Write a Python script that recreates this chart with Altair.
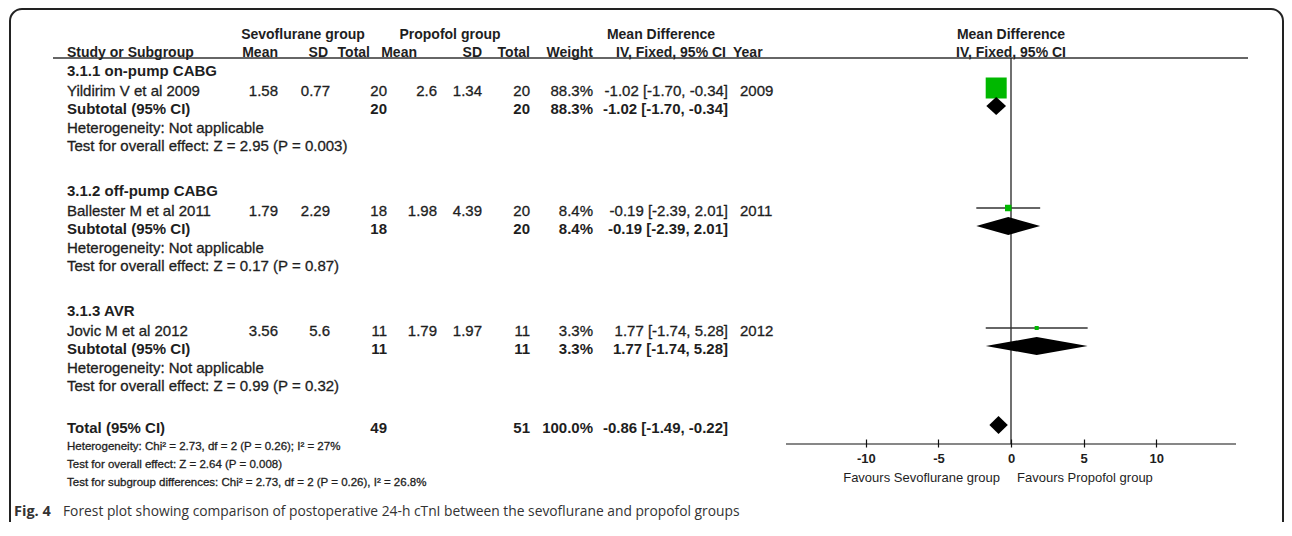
import altair as alt
import pandas as pd

# ---------------- data ----------------
subgroups = ["3.1.1 on-pump CABG", "3.1.2 off-pump CABG", "3.1.3 AVR"]
studies = ["Yildirim V et al 2009", "Ballester M et al 2011", "Jovic M et al 2012"]
years = [2009, 2011, 2012]
sevo_mean = [1.58, 1.79, 3.56]
sevo_sd = [0.77, 2.29, 5.6]
sevo_n = [20, 18, 11]
prop_mean = [2.6, 1.98, 1.79]
prop_sd = [1.34, 4.39, 1.97]
prop_n = [20, 20, 11]
weights = [88.3, 8.4, 3.3]
md = [-1.02, -0.19, 1.77]
ci_lo = [-1.70, -2.39, -1.74]
ci_hi = [-0.34, 2.01, 5.28]
subgroup_tests = ["Z = 2.95 (P = 0.003)", "Z = 0.17 (P = 0.87)", "Z = 0.99 (P = 0.32)"]
total_n = [49, 51]
total_weight = 100.0
total_md = [-0.86, -1.49, -0.22]
total_het = "Heterogeneity: Chi\u00b2 = 2.73, df = 2 (P = 0.26); I\u00b2 = 27%"
total_test = "Test for overall effect: Z = 2.64 (P = 0.008)"
subgroup_diff = "Test for subgroup differences: Chi\u00b2 = 2.73, df = 2 (P = 0.26), I\u00b2 = 26.8%"
axis_ticks = [-10, -5, 0, 5, 10]
axis_extent = [-15.5, 15.5]
favours = ["Favours Sevoflurane group", "Favours Propofol group"]
caption_bold = "Fig. 4"
caption_text = ("Forest plot showing comparison of postoperative 24-h cTnI "
                "between the sevoflurane and propofol groups")

# ---------------- layout (page pixels) ----------------
W, H = 1276, 514
M = 8  # page margin
FONT = "Liberation Sans"
NARROW = "Liberation Sans Narrow, Arial Narrow, Liberation Sans"
CAPFONT = "Open Sans"
TXT = "#1e1e1e"
FS = 15
FS_HEAD = 14
FS_SMALL = 11.5

COL = {  # x, align
    "label": (67, "left"),
    "sevo_mean": (278, "right"),
    "sevo_sd": (330, "right"),
    "sevo_n": (387, "right"),
    "prop_mean": (437, "right"),
    "prop_sd": (482, "right"),
    "prop_n": (530, "right"),
    "weight": (593, "right"),
    "ci": (728, "right"),
    "year": (740, "left"),
}
HEAD1_Y, HEAD2_Y = 35, 53
GROUP_Y = [71, 191, 311]
STEP = [0, 20, 38, 57, 75]   # title, study, subtotal, heterogeneity, test
TOTAL_Y = [428, 447, 465, 483]
CAPTION_Y = 512
MARK_DY = -3
PLOT_X0, PLOT_X1 = 786, 1236   # pixel extent of axis_extent
AXIS_TICK_Y = 439
AXIS_LINE_Y = 444
HEADER_RULE_Y = 58
DIAMOND_H = 9
SQUARE_MAX = 21

items = []


def add(text, x, y, align="left", bold=False, size=FS, font=FONT, color=TXT):
    items.append(dict(text=str(text), px=x - M, py=y - M, align=align,
                      bold=bool(bold), size=float(size), font=font, color=color))


def fmt(v):
    return f"{v:g}"


def ci_text(e, lo, hi):
    return f"{e:.2f} [{lo:.2f}, {hi:.2f}]"


# headers
add("Sevoflurane group", 303, HEAD1_Y, "center", True, FS_HEAD)
add("Propofol group", 450, HEAD1_Y, "center", True, FS_HEAD)
add("Mean Difference", 661, HEAD1_Y, "center", True, FS_HEAD)
add("Study or Subgroup", 67, HEAD2_Y, "left", True, FS_HEAD)
add("Mean", 278, HEAD2_Y, "right", True, FS_HEAD)
add("SD", 328, HEAD2_Y, "right", True, FS_HEAD)
add("Total", 370, HEAD2_Y, "right", True, FS_HEAD)
add("Mean", 417, HEAD2_Y, "right", True, FS_HEAD)
add("SD", 482, HEAD2_Y, "right", True, FS_HEAD)
add("Total", 530, HEAD2_Y, "right", True, FS_HEAD)
add("Weight", 593, HEAD2_Y, "right", True, FS_HEAD)
add("IV, Fixed, 95% CI", 726, HEAD2_Y, "right", True, FS_HEAD)
add("Year", 733, HEAD2_Y, "left", True, FS_HEAD)

study_rows = []
for i, g in enumerate(subgroups):
    y0 = GROUP_Y[i]
    add(g, COL["label"][0], y0 + STEP[0], "left", True)
    ys = y0 + STEP[1]
    vals = {
        "label": studies[i], "sevo_mean": fmt(sevo_mean[i]), "sevo_sd": fmt(sevo_sd[i]),
        "sevo_n": sevo_n[i], "prop_mean": fmt(prop_mean[i]), "prop_sd": fmt(prop_sd[i]),
        "prop_n": prop_n[i], "weight": f"{weights[i]:.1f}%",
        "ci": ci_text(md[i], ci_lo[i], ci_hi[i]), "year": years[i],
    }
    for k, v in vals.items():
        add(v, COL[k][0], ys, COL[k][1], False)
    yt = y0 + STEP[2]
    sub = {"label": "Subtotal (95% CI)", "sevo_n": sevo_n[i], "prop_n": prop_n[i],
           "weight": f"{weights[i]:.1f}%", "ci": ci_text(md[i], ci_lo[i], ci_hi[i])}
    for k, v in sub.items():
        add(v, COL[k][0], yt, COL[k][1], True)
    add("Heterogeneity: Not applicable", COL["label"][0], y0 + STEP[3], "left", False)
    add("Test for overall effect: " + subgroup_tests[i], COL["label"][0], y0 + STEP[4], "left", False)
    study_rows.append(dict(md=md[i], lo=ci_lo[i], hi=ci_hi[i], weight=weights[i],
                           y=ys + MARK_DY - M, ysub=yt + MARK_DY - M, key=subgroups[i]))

tot = {"label": "Total (95% CI)", "sevo_n": total_n[0], "prop_n": total_n[1],
       "weight": f"{total_weight:.1f}%", "ci": ci_text(*total_md)}
for k, v in tot.items():
    add(v, COL[k][0], TOTAL_Y[0], COL[k][1], True)
add(total_het, 67, TOTAL_Y[1], "left", False, FS_SMALL, NARROW)
add(total_test, 67, TOTAL_Y[2], "left", False, FS_SMALL, NARROW)
add(subgroup_diff, 67, TOTAL_Y[3], "left", False, FS_SMALL, NARROW)

# caption
add(caption_bold, 14, CAPTION_Y, "left", True, 14.5, CAPFONT, "#333333")
add(caption_text, 63, CAPTION_Y, "left", False, 13.8, CAPFONT, "#333333")

tdf = pd.DataFrame(items)

xid = alt.Scale(domain=[0, W], range=[0, W], zero=False, nice=False)
yid = alt.Scale(domain=[0, H], range=[0, H], zero=False, nice=False)
fx = alt.Scale(domain=axis_extent, range=[PLOT_X0 - M, PLOT_X1 - M], zero=False, nice=False)

layers = []

# frame
frame = alt.Chart(pd.DataFrame({"a": [0]})).mark_rect(
    fill="white", fillOpacity=0, stroke="#222222", strokeWidth=2, cornerRadius=12
).encode(x=alt.value(2), x2=alt.value(W - 1), y=alt.value(1), y2=alt.value(H + 40))
layers.append(frame)

# header rule
hr = alt.Chart(pd.DataFrame({"x1": [53 - M], "x2": [1248 - M], "y": [HEADER_RULE_Y - M]})).mark_rule(
    color="#333333", strokeWidth=1.6
).encode(x=alt.X("x1:Q", scale=xid, axis=None), x2="x2:Q", y=alt.Y("y:Q", scale=yid, axis=None))
layers.append(hr)

# text layers
for (align, bold, size, font, color), g in tdf.groupby(["align", "bold", "size", "font", "color"]):
    extra = {} if (bold or font == CAPFONT) else {"stroke": color, "strokeWidth": 0.3}
    layers.append(
        alt.Chart(g).mark_text(
            align=align, baseline="middle", font=font, fontSize=float(size),
            fontWeight="bold" if bold else "normal", color=color, **extra
        ).encode(
            x=alt.X("px:Q", scale=xid, axis=None),
            y=alt.Y("py:Q", scale=yid, axis=None),
            text="text:N",
        )
    )

# forest plot
sdf = pd.DataFrame(study_rows)

zero = alt.Chart(pd.DataFrame({"x": [0], "y1": [HEADER_RULE_Y - M], "y2": [AXIS_LINE_Y - M]})).mark_rule(
    color="#111111", strokeWidth=1.2
).encode(x=alt.X("x:Q", scale=fx, axis=None), y=alt.Y("y1:Q", scale=yid, axis=None), y2="y2:Q")
layers.append(zero)

axline = alt.Chart(pd.DataFrame({"x1": [axis_extent[0]], "x2": [axis_extent[1]], "y": [AXIS_LINE_Y - M]})).mark_rule(
    color="#111111", strokeWidth=1.2
).encode(x=alt.X("x1:Q", scale=fx, axis=None), x2="x2:Q", y=alt.Y("y:Q", scale=yid, axis=None))
layers.append(axline)

axis_layer = alt.Chart(pd.DataFrame({"t": axis_ticks})).mark_point(opacity=0).encode(
    x=alt.X("t:Q", scale=fx, axis=alt.Axis(
        values=axis_ticks, orient="bottom", offset=(AXIS_TICK_Y - M) - H, tickSize=8,
        domain=False, grid=False, title=None, labelFont=FONT, labelFontSize=13,
        labelFontWeight="bold", labelExpr="'' + datum.value",
        labelColor=TXT, tickColor="#111111", tickWidth=1.2, labelPadding=5,
        labelFlush=False, labelOverlap=False)),
    y=alt.value(0),
)
layers.append(axis_layer)

fav_df = pd.DataFrame({"x": [0, 0], "y": [478 - M, 478 - M], "t": favours})
fav_l = alt.Chart(fav_df.iloc[[0]]).mark_text(
    align="right", baseline="middle", dx=-11, font=FONT, fontSize=13, color=TXT
).encode(x=alt.X("x:Q", scale=fx, axis=None), y=alt.Y("y:Q", scale=yid, axis=None), text="t:N")
fav_r = alt.Chart(fav_df.iloc[[1]]).mark_text(
    align="left", baseline="middle", dx=6, font=FONT, fontSize=13, color=TXT
).encode(x=alt.X("x:Q", scale=fx, axis=None), y=alt.Y("y:Q", scale=yid, axis=None), text="t:N")
layers += [fav_l, fav_r]

# plot headers centred on zero
ph = pd.DataFrame({"x": [0, 0], "y": [HEAD1_Y - M, HEAD2_Y - M], "t": ["Mean Difference", "IV, Fixed, 95% CI"]})
layers.append(alt.Chart(ph).mark_text(
    align="center", baseline="middle", font=FONT, fontSize=FS_HEAD, fontWeight="bold", color=TXT
).encode(x=alt.X("x:Q", scale=fx, axis=None), y=alt.Y("y:Q", scale=yid, axis=None), text="t:N"))

ci = alt.Chart(sdf).mark_rule(color="#333333", strokeWidth=1.3).encode(
    x=alt.X("lo:Q", scale=fx, axis=None), x2="hi:Q", y=alt.Y("y:Q", scale=yid, axis=None))
layers.append(ci)

sq = alt.Chart(sdf).mark_square(color="#00b800", opacity=1, strokeWidth=0).encode(
    x=alt.X("md:Q", scale=fx, axis=None), y=alt.Y("y:Q", scale=yid, axis=None),
    size=alt.Size("weight:Q", scale=alt.Scale(domain=[0, max(weights)], range=[0, SQUARE_MAX ** 2]), legend=None))
layers.append(sq)

# diamonds (subtotals + total)
drows = []
diam = [(s["key"], s["md"], s["lo"], s["hi"], s["ysub"]) for s in study_rows]
diam.append(("total", total_md[0], total_md[1], total_md[2], TOTAL_Y[0] + MARK_DY - M))
for key, e, lo, hi, yc in diam:
    drows.append(dict(key=key, x=lo, y1=yc, y2=yc))
    drows.append(dict(key=key, x=e, y1=yc - DIAMOND_H, y2=yc + DIAMOND_H))
    drows.append(dict(key=key, x=hi, y1=yc, y2=yc))
ddf = pd.DataFrame(drows)
dia = alt.Chart(ddf).mark_area(color="black", orient="vertical", opacity=1).encode(
    x=alt.X("x:Q", scale=fx, axis=None),
    y=alt.Y("y1:Q", scale=yid, axis=None, stack=None),
    y2="y2:Q",
    detail="key:N")
layers.append(dia)

chart = alt.layer(*layers).resolve_scale(x="independent").properties(
    width=W, height=H, autosize=alt.AutoSizeParams(type="none"), padding=0,
    background="white"
).configure_view(stroke=None)

chart.save("out.html", embed_options={"renderer": "svg", "actions": False})
